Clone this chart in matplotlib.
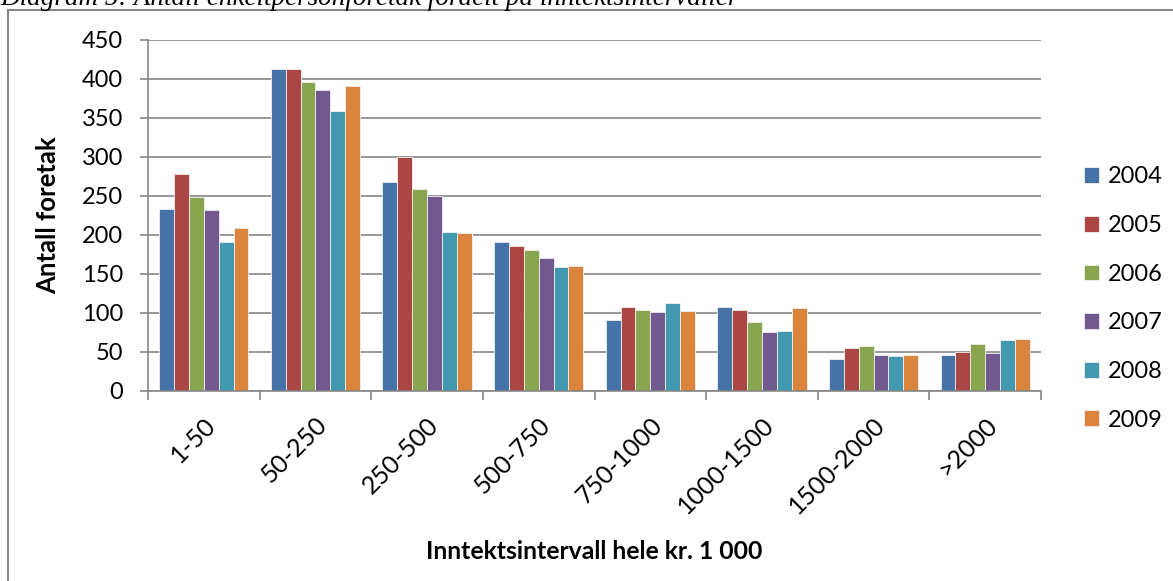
import numpy as np
import matplotlib
matplotlib.use('Agg')
import matplotlib.pyplot as plt
from matplotlib.lines import Line2D

plt.rcParams['font.family'] = ['Lato', 'DejaVu Sans']

categories = ["1-50", "50-250", "250-500", "500-750", "750-1000", "1000-1500", "1500-2000", ">2000"]
years = ["2004", "2005", "2006", "2007", "2008", "2009"]
v2004 = [233, 413, 267, 190, 91, 107, 41, 46]
v2005 = [278, 412, 300, 186, 107, 104, 55, 50]
v2006 = [248, 396, 258, 181, 104, 88, 57, 60]
v2007 = [232, 386, 250, 170, 101, 75, 46, 48]
v2008 = [190, 358, 203, 159, 113, 77, 45, 65]
v2009 = [209, 391, 202, 160, 102, 106, 46, 66]
series = [v2004, v2005, v2006, v2007, v2008, v2009]
colors = ['#4572A7', '#AA4643', '#89A54E', '#71588F', '#4198AF', '#DB843D']

fig = plt.figure(figsize=(11.73, 5.81), dpi=100)
ax = fig.add_axes([148/1173, 1-390.7/581, (1041-148)/1173, (390.7-39.7)/581])

x = np.arange(len(categories))
w = 0.8 / 6
for i, vals in enumerate(series):
    ax.bar(x - 0.4 + w*(i+0.5), vals, width=w, color=colors[i], edgecolor='#f0f0f0',
           linewidth=0.6, label=years[i], zorder=3)

ax.set_xlim(-0.5, len(categories)-0.5)
ax.set_ylim(0, 450)
ax.set_yticks(range(0, 451, 50))
ax.grid(axis='y', color='#868686', linewidth=1.2, zorder=0)
for s in ['top', 'right']:
    ax.spines[s].set_visible(False)
for s in ['left', 'bottom']:
    ax.spines[s].set_color('#868686')
    ax.spines[s].set_linewidth(1.2)
    ax.spines[s].set_zorder(4)

ax.set_xticks(x)
ax.set_xticklabels(categories, rotation=45, ha='right', va='top', rotation_mode='anchor', fontsize=18)
ax.set_xticks(np.arange(-0.5, len(categories)), minor=True)
ax.tick_params(axis='x', which='major', length=0, pad=16)
ax.tick_params(axis='x', which='minor', length=6.5, width=1.2, color='#868686')
ax.tick_params(axis='y', length=6, width=1.2, color='#868686', pad=12, labelsize=17)

ax.set_ylabel("Antall foretak", fontsize=18.5, fontweight='bold')
ax.yaxis.set_label_coords(-88/893, 0.5)
ax.set_xlabel("Inntektsintervall hele kr. 1 000", fontsize=17.8, fontweight='bold')
ax.xaxis.set_label_coords(0.5, -(540-390.7)/351)

ax.legend(loc='center left', bbox_to_anchor=(1084/1173, 1-298.5/581), bbox_transform=fig.transFigure,
          frameon=False, fontsize=17, handlelength=0.65, handleheight=0.65, handletextpad=0.35,
          labelspacing=1.17, borderpad=0, borderaxespad=0)

# chart frame and cut-off caption
fig.add_artist(Line2D([8/1173, 8/1173], [0, 1-10/581], color='#868686', linewidth=1.5))
fig.add_artist(Line2D([8/1173, 1], [1-10/581, 1-10/581], color='#868686', linewidth=1.5))
fig.text(0.0, 1-5/581, "Diagram 5: Antall enkeltpersonforetak fordelt på inntektsintervaller",
         family='Liberation Serif', style='italic', fontsize=19.5, va='baseline', ha='left')

plt.savefig('out.png', dpi=100)
